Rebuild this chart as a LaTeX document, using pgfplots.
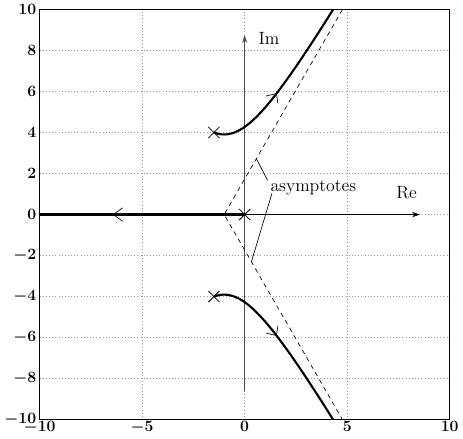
\documentclass[border=0pt]{standalone}
\usepackage{pgfplots}
\pgfplotsset{compat=1.18}
\usetikzlibrary{arrows.meta}
\begin{document}
\begin{tikzpicture}
\begin{axis}[
  scale only axis, width=312pt, height=312pt,
  xmin=-10, xmax=10, ymin=-10, ymax=10,
  xtick={-10,-5,0,5,10}, ytick={-10,-8,...,10},
  grid=major, grid style={dotted, gray!80, line width=0.6pt},
  major tick length=0pt,
  axis line style={line width=1pt},
  tick label style={font=\fontsize{12.5}{14}\selectfont\boldmath},
  xticklabel style={yshift=2pt},
  yticklabel style={xshift=1pt},
]
% imaginary axis (grey) with arrow
\addplot[gray!60!black, line width=0.8pt, -{Stealth[length=6pt,width=4pt]}] coordinates {(0,-8.6) (0,8.75)};
% real axis arrow
\addplot[black, line width=0.6pt, -{Stealth[length=6pt,width=4pt]}] coordinates {(0,0) (8.55,0)};
% asymptotes
\addplot[black, line width=0.5pt, dash pattern=on 3.5pt off 3pt] coordinates {(4.77,10) (-1,0) (4.77,-10)};
% root locus: real branch
\addplot[black, line width=1.6pt] coordinates {(-10,0) (0,0)};
% complex branches
\addplot[black, line width=1.6pt, smooth] coordinates {
(-1.5,4.000) (-1.375,3.959) (-1.25,3.929) (-1.125,3.911) (-1.0,3.905) (-0.875,3.911) (-0.75,3.929)
(-0.5,4.000) (-0.25,4.116) (0,4.272) (0.25,4.465) (0.5,4.690) (0.75,4.943) (1.0,5.220)
(1.25,5.517) (1.5,5.831) (2.0,6.500) (2.5,7.211) (3.0,7.953) (3.5,8.718) (4.0,9.500) (4.25,9.896) (4.5,10.296)};
\addplot[black, line width=1.6pt, smooth] coordinates {
(-1.5,-4.000) (-1.375,-3.959) (-1.25,-3.929) (-1.125,-3.911) (-1.0,-3.905) (-0.875,-3.911) (-0.75,-3.929)
(-0.5,-4.000) (-0.25,-4.116) (0,-4.272) (0.25,-4.465) (0.5,-4.690) (0.75,-4.943) (1.0,-5.220)
(1.25,-5.517) (1.5,-5.831) (2.0,-6.500) (2.5,-7.211) (3.0,-7.953) (3.5,-8.718) (4.0,-9.500) (4.25,-9.896) (4.5,-10.296)};
% direction arrowheads
\addplot[black, line width=0.5pt] coordinates {(1.05,5.78) (1.55,5.90) (1.62,5.42)};
\addplot[black, line width=0.5pt] coordinates {(1.05,-5.78) (1.55,-5.90) (1.62,-5.42)};
\addplot[black, line width=0.5pt] coordinates {(-5.95,0.33) (-6.4,0) (-5.95,-0.33)};
% poles
\addplot[only marks, mark=x, mark size=6pt, mark options={line width=0.6pt}, black] coordinates {(0,0) (-1.5,4) (-1.5,-4)};
% leader lines
\addplot[black, line width=0.5pt] coordinates {(1.12,1.67) (0.57,2.72)};
\addplot[black, line width=0.5pt] coordinates {(1.33,1.03) (0.33,-2.3)};
\node[font=\fontsize{13.5}{15}\selectfont, anchor=center] at (axis cs:3.35,1.3) {asymptotes};
\node[font=\fontsize{13.5}{15}\selectfont, anchor=west] at (axis cs:0.45,8.6) {Im};
\node[font=\fontsize{13.5}{15}\selectfont, anchor=center] at (axis cs:7.9,1.05) {Re};
\end{axis}
\end{tikzpicture}
\end{document}
